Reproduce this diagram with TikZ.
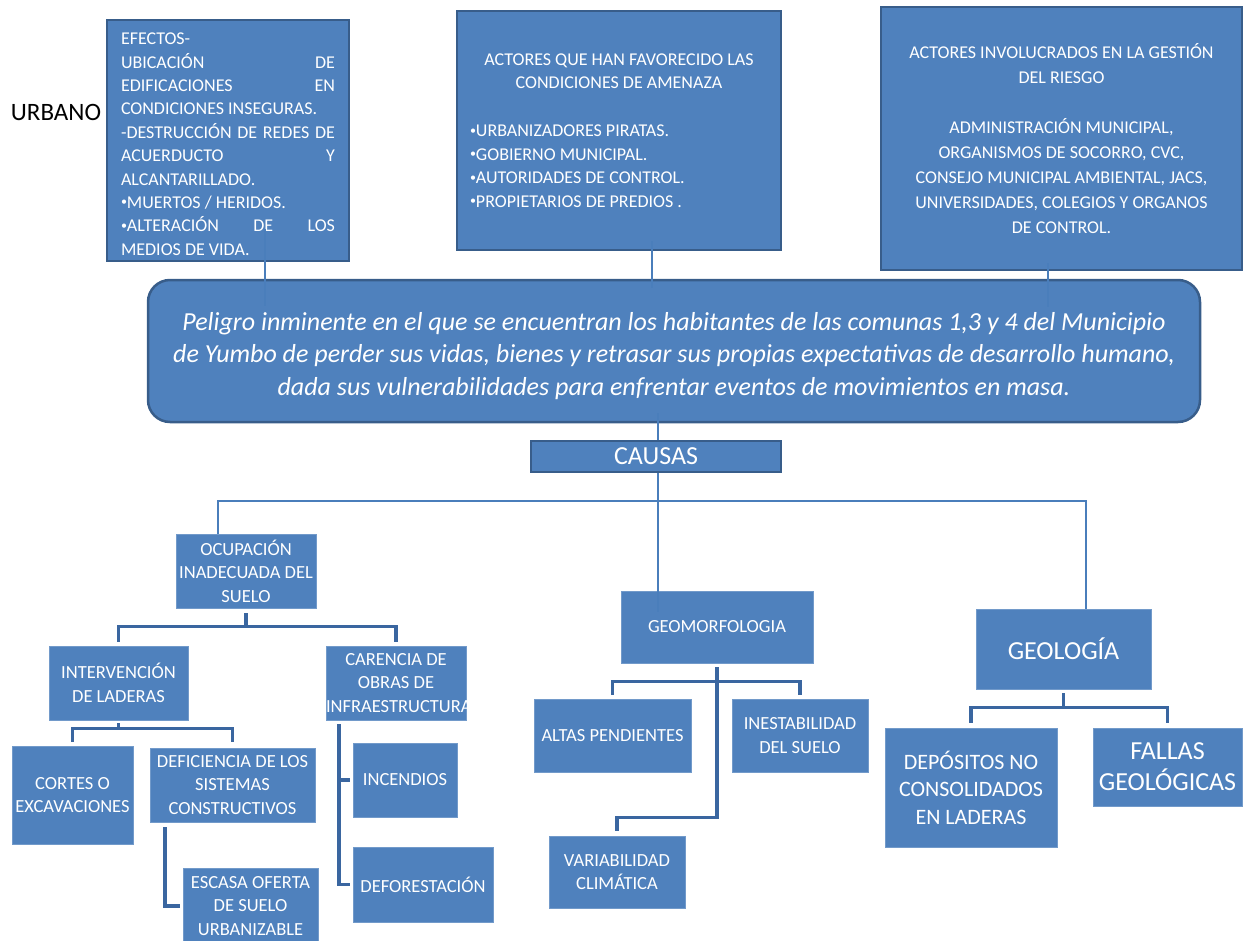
\documentclass[tikz,border=0pt]{standalone}
\usepackage{fontspec}
\setmainfont{Carlito}
\usetikzlibrary{calc}

\definecolor{boxblue}{HTML}{4F81BD}
\definecolor{edgeblue}{HTML}{385D8A}
\definecolor{linkblue}{HTML}{4A7EBB}
\definecolor{brackblue}{HTML}{3A66A0}
\newcommand\bul{\raisebox{2.5pt}{\fontsize{12}{12}\selectfont•}}

\begin{document}
\begin{tikzpicture}[x=1pt, y=-1pt,
  every node/.style={text=white, inner sep=0pt, execute at begin node={\spaceskip=\fontdimen2\font\xspaceskip=0pt}},
  topbox/.style={fill=boxblue, draw=edgeblue, line width=2.5pt, font=\fontsize{18}{23.4}\selectfont},
  lowbox/.style={fill=boxblue, draw=boxblue!80!white, line width=0.8pt, align=center, font=\fontsize{18.5}{23.5}\selectfont},
  link/.style={draw=linkblue, line width=2.5pt},
  bracket/.style={draw=brackblue, line width=3.5pt}]
  \useasboundingbox (0,0) rectangle (1244,941);
  % effects and actors along the top
  \node[text=black, font=\fontsize{25}{30}\selectfont] (urbano) at (56,112) {URBANO};
  \node[topbox, minimum width=242pt, minimum height=241pt, text width=214pt, align=left] (efectos) at (228,140.5)
    {\rule{0pt}{19pt}EFECTOS-\\UBICACIÓN\hfill DE\\EDIFICACIONES\hfill EN\\CONDICIONES INSEGURAS.\\-DESTRUCCIÓN\hfill DE\hfill REDES\hfill DE\\ACUERDUCTO\hfill Y\\ALCANTARILLADO.\\\bul MUERTOS / HERIDOS.\\\bul ALTERACIÓN\hfill DE\hfill LOS\\MEDIOS DE VIDA.};
  \node[topbox, minimum width=324pt, minimum height=239pt, text width=298pt, align=left] (actores) at (619,130.5)
    {\centering ACTORES QUE HAN FAVORECIDO LAS\\CONDICIONES DE AMENAZA\par\vspace{24.5pt}\raggedright
     \bul URBANIZADORES PIRATAS.\\\bul GOBIERNO MUNICIPAL.\\\bul AUTORIDADES DE CONTROL.\\\bul PROPIETARIOS DE PREDIOS .};
  \node[topbox, minimum width=361pt, minimum height=263pt, text width=345pt, align=center, font=\fontsize{18}{25}\selectfont] (gestion) at (1061.5,138.5)
    {ACTORES INVOLUCRADOS EN LA GESTIÓN\\DEL RIESGO\\[25pt]ADMINISTRACIÓN MUNICIPAL,\\ORGANISMOS DE SOCORRO, CVC,\\CONSEJO MUNICIPAL AMBIENTAL, JACS,\\UNIVERSIDADES, COLEGIOS Y ORGANOS\\DE CONTROL.};
  % central problem
  \node[topbox, rounded corners=22pt, minimum width=1052pt, minimum height=142pt, text width=1040pt, align=center, font=\itshape\fontsize{26}{32.5}\selectfont] (peligro) at (674,351)
    {\rule{0pt}{28pt}Peligro inminente en el que se encuentran los habitantes de las comunas 1,3 y 4 del Municipio\\de Yumbo de perder sus vidas, bienes y retrasar sus propias expectativas de desarrollo humano,\\dada sus vulnerabilidades para enfrentar eventos de movimientos en masa.};
  \node[topbox, minimum width=250pt, minimum height=31pt, font=\fontsize{26}{30}\selectfont] (causas) at (656,456.5) {CAUSAS};
  % first branch: land use
  \node[lowbox, text width=140pt, minimum height=74pt] (ocupacion) at (246,571) {OCUPACIÓN\\INADECUADA DEL\\SUELO};
  \node[lowbox, text width=139pt, minimum height=74pt] (intervencion) at (118.5,683) {INTERVENCIÓN\\DE LADERAS};
  \node[lowbox, text width=140pt, minimum height=74pt] (carencia) at (396,683) {CARENCIA DE\\OBRAS DE\\INFRAESTRUCTURA};
  \node[lowbox, text width=121pt, minimum height=98pt] (cortes) at (72.5,795) {CORTES O\\EXCAVACIONES};
  \node[lowbox, text width=165pt, minimum height=74pt] (deficiencia) at (232.5,785) {DEFICIENCIA DE LOS\\SISTEMAS\\CONSTRUCTIVOS};
  \node[lowbox, text width=135pt, minimum height=76pt] (escasa) at (250.5,906) {ESCASA OFERTA\\DE SUELO\\URBANIZABLE};
  \node[lowbox, text width=104pt, minimum height=74pt] (incendios) at (405,780) {INCENDIOS};
  \node[lowbox, text width=140pt, minimum height=75pt] (deforestacion) at (423,884.5) {DEFORESTACIÓN};
  % second branch: geomorphology
  \node[lowbox, text width=192pt, minimum height=72pt] (geomorf) at (717,627) {GEOMORFOLOGIA};
  \node[lowbox, text width=157pt, minimum height=73pt] (altas) at (612.5,735.5) {ALTAS PENDIENTES};
  \node[lowbox, text width=136pt, minimum height=73pt] (inestabilidad) at (800,735.5) {INESTABILIDAD\\DEL SUELO};
  \node[lowbox, text width=136pt, minimum height=72pt] (variabilidad) at (617,872) {VARIABILIDAD\\CLIMÁTICA};
  % third branch: geology
  \node[lowbox, text width=175pt, minimum height=80pt, font=\fontsize{26}{31}\selectfont] (geologia) at (1063.5,649) {GEOLOGÍA};
  \node[lowbox, text width=172pt, minimum height=119pt, font=\fontsize{22}{27.5}\selectfont] (depositos) at (971,787.5) {DEPÓSITOS NO\\CONSOLIDADOS\\EN LADERAS};
  \node[lowbox, text width=149pt, minimum height=78pt, font=\fontsize{26}{31}\selectfont] (fallas) at (1167.5,767) {FALLAS\\GEOLÓGICAS};
  % links into the central box
  \draw[link] ($(efectos.south)+(37,-33)$) -- ($(peligro.north)+(-409,27)$);
  \draw[link] ($(actores.south)+(33,-10)$) -- ($(peligro.north)+(-22,9)$);
  \draw[link] ($(gestion.south)+(-13.5,-8)$) -- ($(peligro.north)+(374,28)$);
  % stem and bus to the causes
  \draw[link] ($(peligro.south)+(-16,-10)$) -- ($(causas.north)+(2,0)$);
  \draw[link] ($(causas.south)+(2,0)$) -- ($(geomorf.north)+(-59,21)$);
  \coordinate (bus) at (658,501);
  \draw[link] ($(ocupacion.north)+(-28,0)$) |- (bus) -| ($(geologia.north)+(22.5,0)$);
  % brackets below each cause
  \draw[bracket] ($(ocupacion.south)+(0,5)$) -- ($(ocupacion.south)+(0,18)$);
  \draw[bracket] ($(intervencion.north)+(0,-4)$) |- ($(ocupacion.south)+(0,18)$) -| ($(carencia.north)+(0,-4)$);
  \draw[bracket] ($(intervencion.south)+(0,3)$) -- ($(intervencion.south)+(0,8)$);
  \draw[bracket] ($(cortes.north)+(0,-4)$) |- ($(intervencion.south)+(0,8)$) -| ($(deficiencia.north)+(0,-6)$);
  \draw[bracket] ($(deficiencia.south)+(-67.5,5)$) |- ($(escasa.west)+(-3,0)$);
  \coordinate (cbar) at ($(carencia.south)+(-57,4)$);
  \draw[bracket] (cbar) |- ($(deforestacion.west)+(-3,0)$);
  \draw[bracket] (cbar |- incendios.west) -- ($(incendios.west)+(-3,0)$);
  \draw[bracket] ($(geomorf.south)+(0,4)$) |- ($(variabilidad.north)+(0,-18)$) -- ($(variabilidad.north)+(0,-5)$);
  \draw[bracket] ($(altas.north)+(0,-4)$) |- ($(geomorf.south)+(0,18)$) -| ($(inestabilidad.north)+(0,-4)$);
  \draw[bracket] ($(geologia.south)+(0,4)$) -- ($(geologia.south)+(0,18)$);
  \draw[bracket] ($(depositos.north)+(0,-5)$) |- ($(geologia.south)+(0,18)$) -| ($(fallas.north)+(0,-5)$);
\end{tikzpicture}
\end{document}
